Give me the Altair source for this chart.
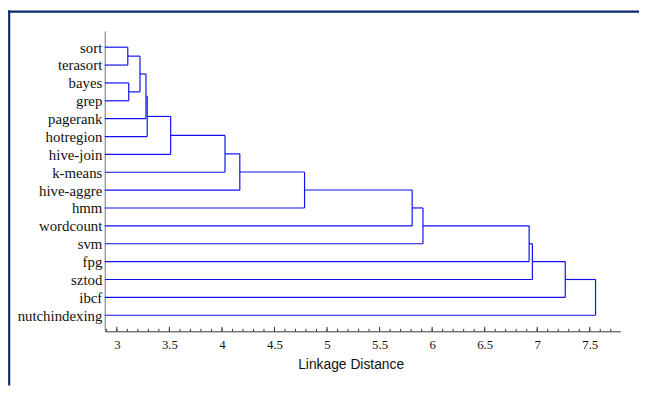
import altair as alt
import pandas as pd
import numpy as np

leaves = ["sort", "terasort", "bayes", "grep", "pagerank", "hotregion", "hive-join",
          "k-means", "hive-aggre", "hmm", "wordcount", "svm", "fpg", "sztod", "ibcf",
          "nutchindexing"]
# merges: (child a, child b, linkage distance); new cluster ids start at 16
merge_a = [0, 2, 16, 18, 19, 20, 21, 22, 23, 24, 25, 26, 27, 28, 29]
merge_b = [1, 3, 17, 4, 5, 6, 7, 8, 9, 10, 11, 12, 13, 14, 15]
merge_h = [3.104, 3.113, 3.220, 3.277, 3.289, 3.512, 4.029, 4.170, 4.786,
           5.810, 5.913, 6.923, 6.954, 7.267, 7.555]

major_ticks = [3, 3.5, 4, 4.5, 5, 5.5, 6, 6.5, 7, 7.5]
minor_ticks = [round(v, 1) for v in np.arange(2.9, 7.75, 0.1)]

XMIN, XMAX = 2.885, 7.79
W, H = 522, 304
PL, PT, PR, PB = 98, 21, 19, 55
SERIF = "Liberation Serif, Times New Roman, serif"
SANS = "Liberation Sans, Arial, sans-serif"

# node positions
xpos = {i: XMIN for i in range(len(leaves))}
ypos = {i: float(i) for i in range(len(leaves))}
rows = []
for k, (a, b, h) in enumerate(zip(merge_a, merge_b, merge_h)):
    nid = len(leaves) + k
    rows.append(dict(x=xpos[a], x2=h, y=ypos[a], y2=ypos[a]))
    rows.append(dict(x=xpos[b], x2=h, y=ypos[b], y2=ypos[b]))
    rows.append(dict(x=h, x2=h, y=ypos[a], y2=ypos[b]))
    xpos[nid] = h
    ypos[nid] = (ypos[a] + ypos[b]) / 2
seg = pd.DataFrame(rows)

xscale = alt.Scale(domain=[XMIN, XMAX], nice=False, zero=False)
yscale = alt.Scale(domain=[-0.9, 15.9], reverse=True, nice=False, zero=False)

label_arr = "[" + ",".join("'" + s + "'" for s in leaves) + "]"

lines = alt.Chart(seg).mark_rule(color="#1010f0", strokeWidth=1.2).encode(
    x=alt.X("x:Q", scale=xscale,
            axis=alt.Axis(values=major_ticks, format="~g", ticks=False, tickSize=0, grid=False,
                          labelFont=SERIF, labelFontSize=13, labelColor="#111",
                          labelPadding=7, domainColor="#333", domainWidth=1,
                          labelFlush=False,
                          title="Linkage Distance", titleFont=SANS,
                          titleFontSize=14, titleFontWeight="normal", titleColor="#111",
                          titleX=249, titleY=38, titleBaseline="alphabetic",
                          titleAlign="center")),
    x2="x2:Q",
    y=alt.Y("y:Q", scale=yscale,
            axis=alt.Axis(values=list(range(len(leaves))), ticks=False, tickSize=0,
                          grid=False, labelExpr=label_arr + "[datum.value]",
                          labelFont=SERIF, labelFontSize=15,
                          labelColor="#111", labelPadding=3, labelFlush=False,
                          domainColor="#888", domainWidth=1.2, title=None)),
    y2="y2:Q",
)

minor = alt.Chart(pd.DataFrame({"v": minor_ticks})).mark_rule(color="#333", strokeWidth=1).encode(
    x=alt.X("v:Q", scale=xscale), y=alt.value(H), y2=alt.value(H - 2.5))
major = alt.Chart(pd.DataFrame({"v": major_ticks})).mark_rule(color="#333", strokeWidth=1).encode(
    x=alt.X("v:Q", scale=xscale), y=alt.value(H), y2=alt.value(H - 4.5))

frame_top = alt.Chart(pd.DataFrame({"a": [0]})).mark_rule(color="#0b2a6f", strokeWidth=2.2).encode(
    x=alt.value(-PL), x2=alt.value(W + PR), y=alt.value(-PT + 1.2))
frame_left = alt.Chart(pd.DataFrame({"a": [0]})).mark_rule(color="#0b2a6f", strokeWidth=2.2).encode(
    x=alt.value(-PL + 1.2), y=alt.value(-PT), y2=alt.value(H + PB))

chart = alt.layer(lines, minor, major, frame_top, frame_left).properties(
    width=W, height=H,
    autosize=alt.AutoSizeParams(type="none"),
    padding={"left": PL, "top": PT, "right": PR, "bottom": PB},
).configure(background="white").configure_view(stroke=None, strokeWidth=0)

chart.save("out.html", embed_options={"renderer": "svg", "actions": False})
